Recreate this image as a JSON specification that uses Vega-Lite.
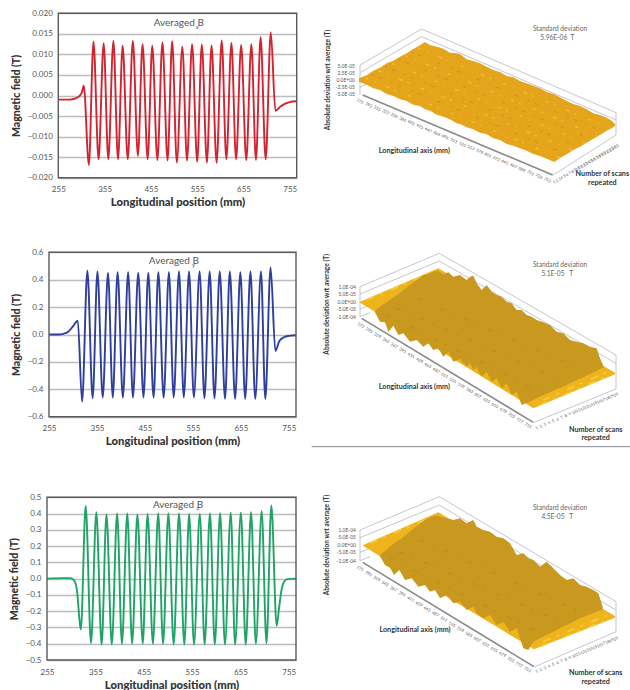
{"$schema":"https://vega.github.io/schema/vega-lite/v6.json","padding":0,"bounds":"flush","spacing":0,"columns":2,"background":"white","config":{"view":{"stroke":null},"font":"Lato"},
"datasets":{
"bx":[{"x":255,"y":-0.001},{"x":280,"y":-0.001},{"x":292,"y":-0.0007},{"x":300,"y":-0.0002},{"x":306,"y":0.0008},{"x":310,"y":0.0024},{"x":321,"y":-0.0169},{"x":331,"y":0.0131},{"x":342,"y":-0.0155},{"x":353,"y":0.0127},{"x":363,"y":-0.0155},{"x":374,"y":0.0133},{"x":384,"y":-0.0155},{"x":394,"y":0.0121},{"x":405,"y":-0.0155},{"x":416,"y":0.0133},{"x":427,"y":-0.0147},{"x":437,"y":0.0125},{"x":448,"y":-0.0155},{"x":458,"y":0.0121},{"x":469,"y":-0.0157},{"x":480,"y":0.0129},{"x":491,"y":-0.0158},{"x":501,"y":0.0132},{"x":511,"y":-0.0163},{"x":523,"y":0.0119},{"x":533,"y":-0.0158},{"x":544,"y":0.0125},{"x":555,"y":-0.0161},{"x":565,"y":0.0124},{"x":576,"y":-0.0163},{"x":586,"y":0.0122},{"x":597,"y":-0.0164},{"x":608,"y":0.0134},{"x":618,"y":-0.0155},{"x":629,"y":0.0128},{"x":639,"y":-0.0155},{"x":650,"y":0.0123},{"x":661,"y":-0.0157},{"x":672,"y":0.0125},{"x":682,"y":-0.0157},{"x":692,"y":0.0142},{"x":703,"y":-0.0155},{"x":714,"y":0.0154},{"x":724,"y":-0.0037},{"x":735,"y":-0.0027},{"x":745,"y":-0.002},{"x":755,"y":-0.0016},{"x":770,"y":-0.0014}],
"by":[{"x":255,"y":0},{"x":275,"y":0},{"x":285,"y":0.005},{"x":295,"y":0.02},{"x":305,"y":0.06},{"x":315,"y":0.1},{"x":324,"y":-0.49},{"x":335,"y":0.465},{"x":346,"y":-0.465},{"x":356,"y":0.46},{"x":367,"y":-0.46},{"x":378,"y":0.45},{"x":388,"y":-0.46},{"x":398,"y":0.455},{"x":409,"y":-0.46},{"x":420,"y":0.455},{"x":430,"y":-0.46},{"x":441,"y":0.45},{"x":452,"y":-0.46},{"x":462,"y":0.45},{"x":473,"y":-0.46},{"x":483,"y":0.455},{"x":494,"y":-0.46},{"x":505,"y":0.455},{"x":515,"y":-0.46},{"x":526,"y":0.46},{"x":536,"y":-0.46},{"x":547,"y":0.46},{"x":557,"y":-0.46},{"x":569,"y":0.46},{"x":579,"y":-0.465},{"x":590,"y":0.46},{"x":600,"y":-0.465},{"x":611,"y":0.46},{"x":622,"y":-0.47},{"x":632,"y":0.46},{"x":643,"y":-0.47},{"x":654,"y":0.455},{"x":664,"y":-0.47},{"x":675,"y":0.46},{"x":685,"y":-0.47},{"x":697,"y":0.46},{"x":706,"y":-0.47},{"x":717,"y":0.49},{"x":727,"y":-0.12},{"x":735,"y":-0.05},{"x":745,"y":-0.02},{"x":755,"y":-0.01},{"x":770,"y":-0.005}],
"bz":[{"x":255,"y":0},{"x":290,"y":0.003},{"x":303,"y":0.003},{"x":313,"y":-0.02},{"x":318,"y":-0.1},{"x":322,"y":-0.25},{"x":325,"y":-0.313},{"x":335,"y":0.447},{"x":346,"y":-0.397},{"x":357,"y":0.408},{"x":368,"y":-0.405},{"x":378,"y":0.395},{"x":389,"y":-0.405},{"x":400,"y":0.4},{"x":410,"y":-0.4},{"x":421,"y":0.4},{"x":431,"y":-0.4},{"x":442,"y":0.395},{"x":453,"y":-0.4},{"x":463,"y":0.397},{"x":474,"y":-0.4},{"x":485,"y":0.4},{"x":495,"y":-0.4},{"x":506,"y":0.4},{"x":517,"y":-0.405},{"x":528,"y":0.4},{"x":539,"y":-0.405},{"x":549,"y":0.397},{"x":559,"y":-0.405},{"x":571,"y":0.397},{"x":581,"y":-0.405},{"x":592,"y":0.4},{"x":602,"y":-0.405},{"x":613,"y":0.403},{"x":623,"y":-0.405},{"x":635,"y":0.405},{"x":644,"y":-0.405},{"x":656,"y":0.405},{"x":666,"y":-0.405},{"x":677,"y":0.408},{"x":687,"y":-0.4},{"x":699,"y":0.414},{"x":709,"y":-0.397},{"x":719,"y":0.45},{"x":730,"y":-0.29},{"x":735,"y":-0.18},{"x":740,"y":-0.07},{"x":745,"y":-0.02},{"x":752,"y":-0.003},{"x":770,"y":0}],
"s1":[
{"k":"wire","g":"a","u":150,"v":195},{"k":"wire","g":"a","u":335,"v":87},{"k":"wire","g":"a","u":918,"v":338},
{"k":"wire","g":"b","u":150,"v":218},{"k":"wire","g":"b","u":335,"v":110},{"k":"wire","g":"b","u":918,"v":360},
{"k":"wire","g":"c","u":150,"v":195},{"k":"wire","g":"c","u":150,"v":285},
{"k":"wire","g":"d","u":918,"v":338},{"k":"wire","g":"d","u":918,"v":405},
{"k":"wire","g":"e","u":150,"v":262},{"k":"wire","g":"e","u":180,"v":246},
{"k":"wire","g":"f","u":730,"v":525},{"k":"wire","g":"f","u":918,"v":405},
{"k":"front","g":"a","u":158,"v":285},{"k":"front","g":"a","u":728,"v":525},
{"k":"base","u":147,"v":235,"v2":245},{"k":"base","u":170,"v":226,"v2":254},{"k":"base","u":190,"v":212,"v2":265},{"k":"base","u":210,"v":203,"v2":270},{"k":"base","u":230,"v":190,"v2":282},{"k":"base","u":250,"v":182,"v2":288},{"k":"base","u":270,"v":170,"v2":298},{"k":"base","u":290,"v":160,"v2":303},{"k":"base","u":310,"v":147,"v2":314},{"k":"base","u":330,"v":136,"v2":318},{"k":"base","u":345,"v":126,"v2":328},{"k":"base","u":360,"v":135,"v2":332},{"k":"base","u":380,"v":140,"v2":344},{"k":"base","u":400,"v":146,"v2":350},{"k":"base","u":420,"v":158,"v2":358},{"k":"base","u":440,"v":160,"v2":370},{"k":"base","u":450,"v":162,"v2":372},{"k":"base","u":470,"v":178,"v2":382},{"k":"base","u":490,"v":183,"v2":388},{"k":"base","u":510,"v":190,"v2":398},{"k":"base","u":530,"v":200,"v2":403},{"k":"base","u":550,"v":210,"v2":415},{"k":"base","u":570,"v":216,"v2":420},{"k":"base","u":590,"v":228,"v2":432},{"k":"base","u":610,"v":232,"v2":437},{"k":"base","u":630,"v":243,"v2":445},{"k":"base","u":650,"v":250,"v2":452},{"k":"base","u":670,"v":257,"v2":462},{"k":"base","u":690,"v":265,"v2":468},{"k":"base","u":710,"v":275,"v2":476},{"k":"base","u":733,"v":283,"v2":486},{"k":"base","u":750,"v":292,"v2":474},{"k":"base","u":770,"v":303,"v2":463},{"k":"base","u":790,"v":312,"v2":450},{"k":"base","u":810,"v":318,"v2":440},{"k":"base","u":830,"v":328,"v2":428},{"k":"base","u":850,"v":340,"v2":416},{"k":"base","u":870,"v":345,"v2":405},{"k":"base","u":890,"v":353,"v2":392},{"k":"base","u":905,"v":362,"v2":385},{"k":"base","u":915,"v":372,"v2":378},
{"k":"lite","g":"1","u":167,"v":234},{"k":"lite","g":"1","u":751,"v":474},{"k":"lite","g":"2","u":206,"v":212},{"k":"lite","g":"2","u":788,"v":451},{"k":"lite","g":"3","u":246,"v":190},{"k":"lite","g":"3","u":824,"v":428},{"k":"lite","g":"4","u":286,"v":167},{"k":"lite","g":"4","u":860,"v":406},{"k":"lite","g":"5","u":325,"v":145},{"k":"lite","g":"5","u":897,"v":383},
{"k":"dark","g":"1","u":187,"v":224},{"k":"dark","g":"1","u":769,"v":462},{"k":"dark","g":"2","u":226,"v":200},{"k":"dark","g":"2","u":806,"v":440},{"k":"dark","g":"3","u":266,"v":178},{"k":"dark","g":"3","u":842,"v":417},{"k":"dark","g":"4","u":305,"v":156},{"k":"dark","g":"4","u":879,"v":395},
{"k":"z","u":135,"v":198,"t":"5.0E-05"},{"k":"z","u":135,"v":218,"t":"2.5E-05"},{"k":"z","u":135,"v":240,"t":"0.0E+00"},{"k":"z","u":135,"v":260,"t":"-2.5E-05"},{"k":"z","u":135,"v":282,"t":"-5.0E-05"},
{"k":"ztitle","u":53,"v":240,"t":"Absolute deviation wrt average (T)"},
{"k":"label","u":313,"v":453,"t":"Longitudinal axis (mm)"},{"k":"label","u":877,"v":523,"t":"Number of scans"},{"k":"label","u":877,"v":550,"t":"repeated"},
{"k":"std","u":750,"v":87,"t":"Standard deviation"},{"k":"std","u":742,"v":115,"t":"5.96E-06\u00a0\u00a0T"},
{"k":"xt","u":150,"v":305,"t":"271"},{"k":"xt","u":176,"v":316,"t":"293"},{"k":"xt","u":201,"v":326,"t":"315"},{"k":"xt","u":227,"v":337,"t":"337"},{"k":"xt","u":252,"v":348,"t":"359"},{"k":"xt","u":278,"v":359,"t":"381"},{"k":"xt","u":303,"v":369,"t":"403"},{"k":"xt","u":329,"v":380,"t":"425"},{"k":"xt","u":354,"v":391,"t":"447"},{"k":"xt","u":380,"v":402,"t":"469"},{"k":"xt","u":405,"v":412,"t":"491"},{"k":"xt","u":431,"v":423,"t":"513"},{"k":"xt","u":457,"v":434,"t":"535"},{"k":"xt","u":482,"v":445,"t":"557"},{"k":"xt","u":508,"v":455,"t":"579"},{"k":"xt","u":533,"v":466,"t":"601"},{"k":"xt","u":559,"v":477,"t":"623"},{"k":"xt","u":584,"v":487,"t":"645"},{"k":"xt","u":610,"v":498,"t":"667"},{"k":"xt","u":635,"v":509,"t":"689"},{"k":"xt","u":661,"v":520,"t":"711"},{"k":"xt","u":686,"v":530,"t":"733"},{"k":"xt","u":712,"v":541,"t":"755"},
{"k":"st","u":733,"v":547,"t":"1"},{"k":"st","u":741,"v":543,"t":"2"},{"k":"st","u":749,"v":538,"t":"3"},{"k":"st","u":756,"v":534,"t":"4"},{"k":"st","u":764,"v":529,"t":"5"},{"k":"st","u":772,"v":525,"t":"6"},{"k":"st","u":780,"v":520,"t":"7"},{"k":"st","u":788,"v":516,"t":"8"},{"k":"st","u":795,"v":511,"t":"9"},{"k":"st","u":803,"v":507,"t":"10"},{"k":"st","u":811,"v":502,"t":"11"},{"k":"st","u":819,"v":498,"t":"12"},{"k":"st","u":827,"v":493,"t":"13"},{"k":"st","u":834,"v":489,"t":"14"},{"k":"st","u":842,"v":485,"t":"15"},{"k":"st","u":850,"v":480,"t":"16"},{"k":"st","u":858,"v":476,"t":"17"},{"k":"st","u":866,"v":471,"t":"18"},{"k":"st","u":873,"v":467,"t":"19"},{"k":"st","u":881,"v":462,"t":"20"},{"k":"st","u":889,"v":458,"t":"21"},{"k":"st","u":897,"v":453,"t":"22"},{"k":"st","u":905,"v":449,"t":"23"},{"k":"st","u":912,"v":444,"t":"24"},{"k":"st","u":920,"v":440,"t":"25"}
],
"s2":[
{"k":"wire","g":"a","u":150,"v":155},{"k":"wire","g":"a","u":388,"v":55},{"k":"wire","g":"a","u":918,"v":360},
{"k":"wire","g":"b","u":150,"v":177},{"k":"wire","g":"b","u":388,"v":78},{"k":"wire","g":"b","u":918,"v":385},
{"k":"wire","g":"c","u":150,"v":155},{"k":"wire","g":"c","u":150,"v":245},
{"k":"wire","g":"d","u":918,"v":360},{"k":"wire","g":"d","u":918,"v":462},
{"k":"wire","g":"e","u":150,"v":222},{"k":"wire","g":"e","u":180,"v":210},
{"k":"wire","g":"f","u":672,"v":562},{"k":"wire","g":"f","u":918,"v":462},
{"k":"wire","g":"h","u":150,"v":245},{"k":"wire","g":"h","u":180,"v":233},
{"k":"front","g":"a","u":155,"v":250},{"k":"front","g":"a","u":670,"v":562},
{"k":"rule","g":"r","u":5,"v":635},{"k":"rule","g":"r","u":960,"v":635},
{"k":"base","u":150,"v":200,"v2":203},{"k":"base","u":385,"v":100,"v2":344},{"k":"base","u":670,"v":269,"v2":520},{"k":"base","u":915,"v":413,"v2":418},
{"k":"lite","g":"1","u":170,"v":195},{"k":"lite","g":"1","u":355,"v":118},{"k":"lite","g":"2","u":690,"v":510},{"k":"lite","g":"2","u":895,"v":423},{"k":"lite","g":"3","u":700,"v":495},{"k":"lite","g":"3","u":890,"v":412},
{"k":"top","u":195,"v":228,"v2":232},{"k":"top","u":210,"v":215,"v2":260},{"k":"top","u":225,"v":205,"v2":262},{"k":"top","u":235,"v":198,"v2":290},{"k":"top","u":250,"v":187,"v2":272},{"k":"top","u":265,"v":178,"v2":300},{"k":"top","u":280,"v":165,"v2":295},{"k":"top","u":300,"v":150,"v2":320},{"k":"top","u":320,"v":135,"v2":315},{"k":"top","u":340,"v":120,"v2":335},{"k":"top","u":355,"v":118,"v2":325},{"k":"top","u":370,"v":110,"v2":345},{"k":"top","u":385,"v":108,"v2":340},{"k":"top","u":400,"v":118,"v2":365},{"k":"top","u":415,"v":112,"v2":350},{"k":"top","u":430,"v":125,"v2":380},{"k":"top","u":450,"v":120,"v2":372},{"k":"top","u":470,"v":135,"v2":395},{"k":"top","u":480,"v":125,"v2":385},{"k":"top","u":490,"v":122,"v2":405},{"k":"top","u":500,"v":145,"v2":395},{"k":"top","u":515,"v":165,"v2":425},{"k":"top","u":530,"v":150,"v2":410},{"k":"top","u":545,"v":170,"v2":440},{"k":"top","u":560,"v":180,"v2":430},{"k":"top","u":575,"v":185,"v2":460},{"k":"top","u":590,"v":200,"v2":445},{"k":"top","u":605,"v":205,"v2":480},{"k":"top","u":620,"v":225,"v2":470},{"k":"top","u":635,"v":225,"v2":510},{"k":"top","u":650,"v":240,"v2":503},{"k":"top","u":665,"v":245,"v2":497},{"k":"top","u":680,"v":255,"v2":490},{"k":"top","u":700,"v":262,"v2":480},{"k":"top","u":720,"v":270,"v2":472},{"k":"top","u":740,"v":290,"v2":462},{"k":"top","u":760,"v":295,"v2":455},{"k":"top","u":780,"v":315,"v2":445},{"k":"top","u":800,"v":320,"v2":435},{"k":"top","u":820,"v":325,"v2":427},{"k":"top","u":840,"v":335,"v2":417},{"k":"top","u":860,"v":340,"v2":408},{"k":"top","u":870,"v":370,"v2":402},{"k":"top","u":880,"v":392,"v2":398},
{"k":"shade","g":"1","u":260,"v":220},{"k":"shade","g":"1","u":760,"v":440},{"k":"shade","g":"2","u":320,"v":190},{"k":"shade","g":"2","u":810,"v":400},{"k":"shade","g":"3","u":230,"v":240},{"k":"shade","g":"3","u":690,"v":470},
{"k":"z","u":138,"v":155,"t":"1.0E-04"},{"k":"z","u":138,"v":178,"t":"5.0E-05"},{"k":"z","u":138,"v":200,"t":"0.0E+00"},{"k":"z","u":138,"v":222,"t":"-5.0E-05"},{"k":"z","u":138,"v":245,"t":"-1.0E-04"},
{"k":"ztitle","u":52,"v":208,"t":"Absolute deviation wrt average (T)"},
{"k":"label","u":313,"v":455,"t":"Longitudinal axis (mm)"},{"k":"label","u":857,"v":585,"t":"Number of scans"},{"k":"label","u":857,"v":610,"t":"repeated"},
{"k":"std","u":750,"v":90,"t":"Standard deviation"},{"k":"std","u":742,"v":118,"t":"5.1E-05\u00a0\u00a0\u00a0T"},
{"k":"xt","u":152,"v":272,"t":"271"},{"k":"xt","u":177,"v":287,"t":"295"},{"k":"xt","u":202,"v":302,"t":"319"},{"k":"xt","u":227,"v":317,"t":"343"},{"k":"xt","u":252,"v":332,"t":"367"},{"k":"xt","u":278,"v":347,"t":"391"},{"k":"xt","u":303,"v":362,"t":"415"},{"k":"xt","u":328,"v":377,"t":"439"},{"k":"xt","u":353,"v":392,"t":"463"},{"k":"xt","u":378,"v":407,"t":"487"},{"k":"xt","u":403,"v":422,"t":"511"},{"k":"xt","u":428,"v":437,"t":"535"},{"k":"xt","u":453,"v":452,"t":"559"},{"k":"xt","u":478,"v":467,"t":"583"},{"k":"xt","u":503,"v":482,"t":"607"},{"k":"xt","u":529,"v":497,"t":"631"},{"k":"xt","u":554,"v":512,"t":"655"},{"k":"xt","u":579,"v":527,"t":"679"},{"k":"xt","u":604,"v":542,"t":"703"},{"k":"xt","u":629,"v":557,"t":"727"},{"k":"xt","u":654,"v":572,"t":"751"},
{"k":"st","u":680,"v":580,"t":"1"},{"k":"st","u":693,"v":575,"t":"2"},{"k":"st","u":705,"v":569,"t":"3"},{"k":"st","u":718,"v":564,"t":"4"},{"k":"st","u":730,"v":559,"t":"5"},{"k":"st","u":743,"v":554,"t":"6"},{"k":"st","u":755,"v":548,"t":"7"},{"k":"st","u":768,"v":543,"t":"8"},{"k":"st","u":780,"v":538,"t":"9"},{"k":"st","u":793,"v":533,"t":"10"},{"k":"st","u":805,"v":527,"t":"11"},{"k":"st","u":818,"v":522,"t":"12"},{"k":"st","u":830,"v":517,"t":"13"},{"k":"st","u":843,"v":512,"t":"14"},{"k":"st","u":855,"v":506,"t":"15"},{"k":"st","u":868,"v":501,"t":"16"},{"k":"st","u":880,"v":496,"t":"17"},{"k":"st","u":893,"v":491,"t":"18"},{"k":"st","u":905,"v":485,"t":"19"},{"k":"st","u":918,"v":480,"t":"20"}
],
"s3":[
{"k":"wire","g":"a","u":150,"v":165},{"k":"wire","g":"a","u":388,"v":65},{"k":"wire","g":"a","u":918,"v":380},
{"k":"wire","g":"b","u":150,"v":188},{"k":"wire","g":"b","u":388,"v":90},{"k":"wire","g":"b","u":918,"v":405},
{"k":"wire","g":"c","u":150,"v":165},{"k":"wire","g":"c","u":150,"v":257},
{"k":"wire","g":"d","u":918,"v":380},{"k":"wire","g":"d","u":918,"v":470},
{"k":"wire","g":"e","u":150,"v":232},{"k":"wire","g":"e","u":180,"v":220},
{"k":"wire","g":"f","u":675,"v":575},{"k":"wire","g":"f","u":918,"v":470},
{"k":"wire","g":"h","u":150,"v":257},{"k":"wire","g":"h","u":180,"v":245},
{"k":"front","g":"a","u":158,"v":262},{"k":"front","g":"a","u":672,"v":575},
{"k":"base","u":160,"v":210,"v2":213},{"k":"base","u":385,"v":112,"v2":350},{"k":"base","u":672,"v":281,"v2":523},{"k":"base","u":915,"v":423,"v2":428},
{"k":"lite","g":"1","u":180,"v":205},{"k":"lite","g":"1","u":355,"v":130},{"k":"lite","g":"2","u":690,"v":515},{"k":"lite","g":"2","u":895,"v":433},{"k":"lite","g":"3","u":700,"v":500},{"k":"lite","g":"3","u":890,"v":422},
{"k":"top","u":210,"v":240,"v2":244},{"k":"top","u":225,"v":228,"v2":270},{"k":"top","u":240,"v":215,"v2":278},{"k":"top","u":252,"v":205,"v2":300},{"k":"top","u":268,"v":195,"v2":285},{"k":"top","u":285,"v":182,"v2":315},{"k":"top","u":305,"v":165,"v2":310},{"k":"top","u":325,"v":150,"v2":335},{"k":"top","u":345,"v":135,"v2":330},{"k":"top","u":360,"v":128,"v2":350},{"k":"top","u":375,"v":122,"v2":345},{"k":"top","u":390,"v":125,"v2":370},{"k":"top","u":410,"v":130,"v2":360},{"k":"top","u":430,"v":135,"v2":385},{"k":"top","u":450,"v":130,"v2":380},{"k":"top","u":470,"v":145,"v2":405},{"k":"top","u":490,"v":135,"v2":395},{"k":"top","u":500,"v":155,"v2":415},{"k":"top","u":520,"v":165,"v2":430},{"k":"top","u":540,"v":170,"v2":420},{"k":"top","u":560,"v":185,"v2":450},{"k":"top","u":580,"v":190,"v2":440},{"k":"top","u":600,"v":205,"v2":470},{"k":"top","u":620,"v":240,"v2":460},{"k":"top","u":640,"v":235,"v2":520},{"k":"top","u":655,"v":250,"v2":525},{"k":"top","u":670,"v":255,"v2":500},{"k":"top","u":690,"v":275,"v2":490},{"k":"top","u":710,"v":260,"v2":480},{"k":"top","u":730,"v":280,"v2":470},{"k":"top","u":750,"v":300,"v2":460},{"k":"top","u":770,"v":315,"v2":450},{"k":"top","u":790,"v":310,"v2":440},{"k":"top","u":810,"v":330,"v2":430},{"k":"top","u":830,"v":335,"v2":422},{"k":"top","u":850,"v":345,"v2":414},{"k":"top","u":865,"v":355,"v2":408},{"k":"top","u":878,"v":395,"v2":405},
{"k":"shade","g":"1","u":270,"v":230},{"k":"shade","g":"1","u":760,"v":445},{"k":"shade","g":"2","u":330,"v":195},{"k":"shade","g":"2","u":810,"v":410},{"k":"shade","g":"3","u":240,"v":250},{"k":"shade","g":"3","u":690,"v":475},
{"k":"z","u":138,"v":165,"t":"1.0E-04"},{"k":"z","u":138,"v":187,"t":"5.0E-05"},{"k":"z","u":138,"v":210,"t":"0.0E+00"},{"k":"z","u":138,"v":232,"t":"-5.0E-05"},{"k":"z","u":138,"v":257,"t":"-1.0E-04"},
{"k":"ztitle","u":52,"v":210,"t":"Absolute deviation wrt average (T)"},
{"k":"label","u":315,"v":466,"t":"Longitudinal axis (mm)"},{"k":"label","u":857,"v":595,"t":"Number of scans"},{"k":"label","u":857,"v":620,"t":"repeated"},
{"k":"std","u":750,"v":98,"t":"Standard deviation"},{"k":"std","u":742,"v":127,"t":"4.5E-05\u00a0\u00a0\u00a0T"},
{"k":"xt","u":150,"v":282,"t":"271"},{"k":"xt","u":175,"v":297,"t":"295"},{"k":"xt","u":200,"v":312,"t":"319"},{"k":"xt","u":225,"v":327,"t":"343"},{"k":"xt","u":250,"v":343,"t":"367"},{"k":"xt","u":276,"v":358,"t":"391"},{"k":"xt","u":301,"v":373,"t":"415"},{"k":"xt","u":326,"v":388,"t":"439"},{"k":"xt","u":351,"v":403,"t":"463"},{"k":"xt","u":376,"v":418,"t":"487"},{"k":"xt","u":401,"v":433,"t":"511"},{"k":"xt","u":426,"v":449,"t":"535"},{"k":"xt","u":451,"v":464,"t":"559"},{"k":"xt","u":476,"v":479,"t":"583"},{"k":"xt","u":501,"v":494,"t":"607"},{"k":"xt","u":527,"v":509,"t":"631"},{"k":"xt","u":552,"v":524,"t":"655"},{"k":"xt","u":577,"v":539,"t":"679"},{"k":"xt","u":602,"v":555,"t":"703"},{"k":"xt","u":627,"v":570,"t":"727"},{"k":"xt","u":652,"v":585,"t":"751"},
{"k":"st","u":680,"v":590,"t":"1"},{"k":"st","u":693,"v":585,"t":"2"},{"k":"st","u":705,"v":580,"t":"3"},{"k":"st","u":718,"v":575,"t":"4"},{"k":"st","u":730,"v":569,"t":"5"},{"k":"st","u":743,"v":564,"t":"6"},{"k":"st","u":755,"v":559,"t":"7"},{"k":"st","u":768,"v":554,"t":"8"},{"k":"st","u":780,"v":549,"t":"9"},{"k":"st","u":793,"v":544,"t":"10"},{"k":"st","u":805,"v":538,"t":"11"},{"k":"st","u":818,"v":533,"t":"12"},{"k":"st","u":830,"v":528,"t":"13"},{"k":"st","u":843,"v":523,"t":"14"},{"k":"st","u":855,"v":518,"t":"15"},{"k":"st","u":868,"v":513,"t":"16"},{"k":"st","u":880,"v":507,"t":"17"},{"k":"st","u":893,"v":502,"t":"18"},{"k":"st","u":905,"v":497,"t":"19"},{"k":"st","u":918,"v":492,"t":"20"}
]
},
"concat":[
{"width":310,"height":235,
"encoding":{"x":{"field":"x","type":"quantitative","scale":{"domain":[255,770],"range":[58.3,296.7],"nice":false,"zero":false},"axis":{"values":[255,355,455,555,655,755],"grid":false,"ticks":false,"domain":false,"offset":-57.3,"labelFontSize":8,"labelColor":"#555","labelPadding":8,"labelFlush":false,"title":"Longitudinal position (mm)","titleFontSize":11.3,"titleFontWeight":900,"titleColor":"#333","titlePadding":3}},
"y":{"field":"y","type":"quantitative","scale":{"domain":[-0.02,0.02],"range":[177.7,13.3],"nice":false,"zero":false},"axis":{"values":[-0.02,-0.015,-0.01,-0.005,0,0.005,0.01,0.015,0.02],"format":".3f","grid":true,"gridColor":"#bdbdbd","gridWidth":1.3,"ticks":false,"domain":false,"offset":-58.3,"labelFontSize":8,"labelColor":"#555","labelPadding":6,"title":"Magnetic field (T)","titleFontSize":10.5,"titleFontWeight":900,"titleColor":"#333","titlePadding":6}}},
"layer":[
{"data":{"name":"bx"},"mark":{"type":"line","interpolate":"monotone","color":"#d42330","strokeWidth":1.9}},
{"data":{"values":[{"x":255,"y":-0.02,"x2":770,"y2":0.02}]},"mark":{"type":"rect","fill":null,"fillOpacity":0,"stroke":"#5a5a5a","strokeWidth":1.4},"encoding":{"x2":{"field":"x2"},"y2":{"field":"y2"}}},
{"data":{"values":[{"x":461,"y":0.0176,"t":"Averaged B"}]},"mark":{"type":"text","align":"left","fontSize":10,"color":"#555"},"encoding":{"text":{"field":"t"}}},
{"data":{"values":[{"x":552,"y":0.0166,"t":"x"}]},"mark":{"type":"text","align":"left","fontSize":6,"color":"#555"},"encoding":{"text":{"field":"t"}}}
]},
{"width":320,"height":235,"data":{"name":"s1"},
"encoding":{"x":{"field":"u","type":"quantitative","scale":{"domain":[0,960],"nice":false,"zero":false},"axis":null},"y":{"field":"v","type":"quantitative","scale":{"domain":[705,0],"nice":false,"zero":false},"axis":null}},
"layer":[
{"transform":[{"filter":"datum.k=='wire'"}],"mark":{"type":"line","color":"#b4b8c6","strokeWidth":0.8},"encoding":{"detail":{"field":"g"},"order":{"field":"v2"}}},
{"transform":[{"filter":"datum.k=='base'"}],"mark":{"type":"area","color":"#e4a51c"},"encoding":{"y2":{"field":"v2"}}},
{"transform":[{"filter":"datum.k=='lite'"}],"mark":{"type":"line","color":"#f7c832","strokeWidth":1.3,"strokeDash":[3,7,1,11,4,5,2,13],"opacity":0.75},"encoding":{"detail":{"field":"g"}}},
{"transform":[{"filter":"datum.k=='dark'"}],"mark":{"type":"line","color":"#cf8f1a","strokeWidth":1.3,"strokeDash":[2,5,4,9,1,7,3,11],"opacity":0.8},"encoding":{"detail":{"field":"g"}}},
{"transform":[{"filter":"datum.k=='front'"}],"mark":{"type":"line","color":"#8a8a8a","strokeWidth":1.6}},
{"transform":[{"filter":"datum.k=='z'"}],"mark":{"type":"text","align":"right","fontSize":5,"color":"#555"},"encoding":{"text":{"field":"t"}}},
{"transform":[{"filter":"datum.k=='ztitle'"}],"mark":{"type":"text","angle":270,"fontSize":6.6,"fontWeight":"bold","color":"#333"},"encoding":{"text":{"field":"t"}}},
{"transform":[{"filter":"datum.k=='label'"}],"mark":{"type":"text","fontSize":7.2,"fontWeight":"bold","color":"#333"},"encoding":{"text":{"field":"t"}}},
{"transform":[{"filter":"datum.k=='std'"}],"mark":{"type":"text","fontSize":6.6,"color":"#666"},"encoding":{"text":{"field":"t"}}},
{"transform":[{"filter":"datum.k=='xt'"}],"mark":{"type":"text","angle":30,"fontSize":4.2,"color":"#555"},"encoding":{"text":{"field":"t"}}},
{"transform":[{"filter":"datum.k=='st'"}],"mark":{"type":"text","angle":330,"fontSize":4,"color":"#555"},"encoding":{"text":{"field":"t"}}}
]},
{"width":310,"height":240,
"encoding":{"x":{"field":"x","type":"quantitative","scale":{"domain":[255,770],"range":[49,296],"nice":false,"zero":false},"axis":{"values":[255,355,455,555,655,755],"grid":false,"ticks":false,"domain":false,"offset":-58.3,"labelFontSize":8,"labelColor":"#555","labelPadding":8,"labelFlush":false,"title":"Longitudinal position (mm)","titleFontSize":11.3,"titleFontWeight":900,"titleColor":"#333","titlePadding":3}},
"y":{"field":"y","type":"quantitative","scale":{"domain":[-0.6,0.6],"range":[181.7,17.3],"nice":false,"zero":false},"axis":{"values":[-0.6,-0.4,-0.2,0,0.2,0.4,0.6],"format":".1f","grid":true,"gridColor":"#bdbdbd","gridWidth":1.3,"ticks":false,"domain":false,"offset":-49,"labelFontSize":8,"labelColor":"#555","labelPadding":6,"title":"Magnetic field (T)","titleFontSize":10.5,"titleFontWeight":900,"titleColor":"#333","titlePadding":6}}},
"layer":[
{"data":{"name":"by"},"mark":{"type":"line","interpolate":"monotone","color":"#2f3f9e","strokeWidth":1.9}},
{"data":{"values":[{"x":255,"y":-0.6,"x2":770,"y2":0.6}]},"mark":{"type":"rect","fill":null,"fillOpacity":0,"stroke":"#5a5a5a","strokeWidth":1.4},"encoding":{"x2":{"field":"x2"},"y2":{"field":"y2"}}},
{"data":{"values":[{"x":463,"y":0.536,"t":"Averaged B"}]},"mark":{"type":"text","align":"left","fontSize":10,"color":"#555"},"encoding":{"text":{"field":"t"}}},
{"data":{"values":[{"x":553,"y":0.507,"t":"y"}]},"mark":{"type":"text","align":"left","fontSize":6,"color":"#555"},"encoding":{"text":{"field":"t"}}}
]},
{"width":320,"height":240,"data":{"name":"s2"},
"encoding":{"x":{"field":"u","type":"quantitative","scale":{"domain":[0,960],"nice":false,"zero":false},"axis":null},"y":{"field":"v","type":"quantitative","scale":{"domain":[720,0],"nice":false,"zero":false},"axis":null}},
"layer":[
{"transform":[{"filter":"datum.k=='wire'"}],"mark":{"type":"line","color":"#b4b8c6","strokeWidth":0.8},"encoding":{"detail":{"field":"g"},"order":{"field":"v2"}}},
{"transform":[{"filter":"datum.k=='rule'"}],"mark":{"type":"line","color":"#8a8a94","strokeWidth":1}},
{"transform":[{"filter":"datum.k=='base'"}],"mark":{"type":"area","color":"#eeb41c"},"encoding":{"y2":{"field":"v2"}}},
{"transform":[{"filter":"datum.k=='lite'"}],"mark":{"type":"line","color":"#f8cf3a","strokeWidth":1.8,"strokeDash":[8,6,3,9],"opacity":0.85},"encoding":{"detail":{"field":"g"}}},
{"transform":[{"filter":"datum.k=='top'"}],"mark":{"type":"area","color":"#c9981f"},"encoding":{"y2":{"field":"v2"}}},
{"transform":[{"filter":"datum.k=='shade'"}],"mark":{"type":"line","color":"#b98a1c","strokeWidth":1.2,"strokeDash":[5,8,2,11],"opacity":0.7},"encoding":{"detail":{"field":"g"}}},
{"transform":[{"filter":"datum.k=='front'"}],"mark":{"type":"line","color":"#8a8a8a","strokeWidth":1.6}},
{"transform":[{"filter":"datum.k=='z'"}],"mark":{"type":"text","align":"right","fontSize":5,"color":"#555"},"encoding":{"text":{"field":"t"}}},
{"transform":[{"filter":"datum.k=='ztitle'"}],"mark":{"type":"text","angle":270,"fontSize":6.6,"fontWeight":"bold","color":"#333"},"encoding":{"text":{"field":"t"}}},
{"transform":[{"filter":"datum.k=='label'"}],"mark":{"type":"text","fontSize":7.2,"fontWeight":"bold","color":"#333"},"encoding":{"text":{"field":"t"}}},
{"transform":[{"filter":"datum.k=='std'"}],"mark":{"type":"text","fontSize":6.6,"color":"#666"},"encoding":{"text":{"field":"t"}}},
{"transform":[{"filter":"datum.k=='xt'"}],"mark":{"type":"text","angle":30,"fontSize":4.2,"color":"#555"},"encoding":{"text":{"field":"t"}}},
{"transform":[{"filter":"datum.k=='st'"}],"mark":{"type":"text","angle":330,"fontSize":4,"color":"#555"},"encoding":{"text":{"field":"t"}}}
]},
{"width":310,"height":215,
"encoding":{"x":{"field":"x","type":"quantitative","scale":{"domain":[255,770],"range":[47,296],"nice":false,"zero":false},"axis":{"values":[255,355,455,555,655,755],"grid":false,"ticks":false,"domain":false,"offset":-30,"labelFontSize":8,"labelColor":"#555","labelPadding":8,"labelFlush":false,"title":"Longitudinal position (mm)","titleFontSize":11.3,"titleFontWeight":900,"titleColor":"#333","titlePadding":3}},
"y":{"field":"y","type":"quantitative","scale":{"domain":[-0.5,0.5],"range":[185,22.3],"nice":false,"zero":false},"axis":{"values":[-0.5,-0.4,-0.3,-0.2,-0.1,0,0.1,0.2,0.3,0.4,0.5],"format":".1f","grid":true,"gridColor":"#bdbdbd","gridWidth":1.3,"ticks":false,"domain":false,"offset":-47,"labelFontSize":8,"labelColor":"#555","labelPadding":6,"title":"Magnetic field (T)","titleFontSize":10.5,"titleFontWeight":900,"titleColor":"#333","titlePadding":6}}},
"layer":[
{"data":{"name":"bz"},"mark":{"type":"line","interpolate":"monotone","color":"#1fa468","strokeWidth":1.9}},
{"data":{"values":[{"x":255,"y":-0.5,"x2":770,"y2":0.5}]},"mark":{"type":"rect","fill":null,"fillOpacity":0,"stroke":"#5a5a5a","strokeWidth":1.4},"encoding":{"x2":{"field":"x2"},"y2":{"field":"y2"}}},
{"data":{"values":[{"x":474,"y":0.453,"t":"Averaged B"}]},"mark":{"type":"text","align":"left","fontSize":10,"color":"#555"},"encoding":{"text":{"field":"t"}}},
{"data":{"values":[{"x":564,"y":0.432,"t":"z"}]},"mark":{"type":"text","align":"left","fontSize":6,"color":"#555"},"encoding":{"text":{"field":"t"}}}
]},
{"width":320,"height":215,"data":{"name":"s3"},
"encoding":{"x":{"field":"u","type":"quantitative","scale":{"domain":[0,960],"nice":false,"zero":false},"axis":null},"y":{"field":"v","type":"quantitative","scale":{"domain":[645,0],"nice":false,"zero":false},"axis":null}},
"layer":[
{"transform":[{"filter":"datum.k=='wire'"}],"mark":{"type":"line","color":"#b4b8c6","strokeWidth":0.8},"encoding":{"detail":{"field":"g"},"order":{"field":"v2"}}},
{"transform":[{"filter":"datum.k=='base'"}],"mark":{"type":"area","color":"#eeb41c"},"encoding":{"y2":{"field":"v2"}}},
{"transform":[{"filter":"datum.k=='lite'"}],"mark":{"type":"line","color":"#f8cf3a","strokeWidth":1.8,"strokeDash":[8,6,3,9],"opacity":0.85},"encoding":{"detail":{"field":"g"}}},
{"transform":[{"filter":"datum.k=='top'"}],"mark":{"type":"area","color":"#c9981f"},"encoding":{"y2":{"field":"v2"}}},
{"transform":[{"filter":"datum.k=='shade'"}],"mark":{"type":"line","color":"#b98a1c","strokeWidth":1.2,"strokeDash":[5,8,2,11],"opacity":0.7},"encoding":{"detail":{"field":"g"}}},
{"transform":[{"filter":"datum.k=='front'"}],"mark":{"type":"line","color":"#8a8a8a","strokeWidth":1.6}},
{"transform":[{"filter":"datum.k=='z'"}],"mark":{"type":"text","align":"right","fontSize":5,"color":"#555"},"encoding":{"text":{"field":"t"}}},
{"transform":[{"filter":"datum.k=='ztitle'"}],"mark":{"type":"text","angle":270,"fontSize":6.6,"fontWeight":"bold","color":"#333"},"encoding":{"text":{"field":"t"}}},
{"transform":[{"filter":"datum.k=='label'"}],"mark":{"type":"text","fontSize":7.2,"fontWeight":"bold","color":"#333"},"encoding":{"text":{"field":"t"}}},
{"transform":[{"filter":"datum.k=='std'"}],"mark":{"type":"text","fontSize":6.6,"color":"#666"},"encoding":{"text":{"field":"t"}}},
{"transform":[{"filter":"datum.k=='xt'"}],"mark":{"type":"text","angle":30,"fontSize":4.2,"color":"#555"},"encoding":{"text":{"field":"t"}}},
{"transform":[{"filter":"datum.k=='st'"}],"mark":{"type":"text","angle":330,"fontSize":4,"color":"#555"},"encoding":{"text":{"field":"t"}}}
]}
]}
